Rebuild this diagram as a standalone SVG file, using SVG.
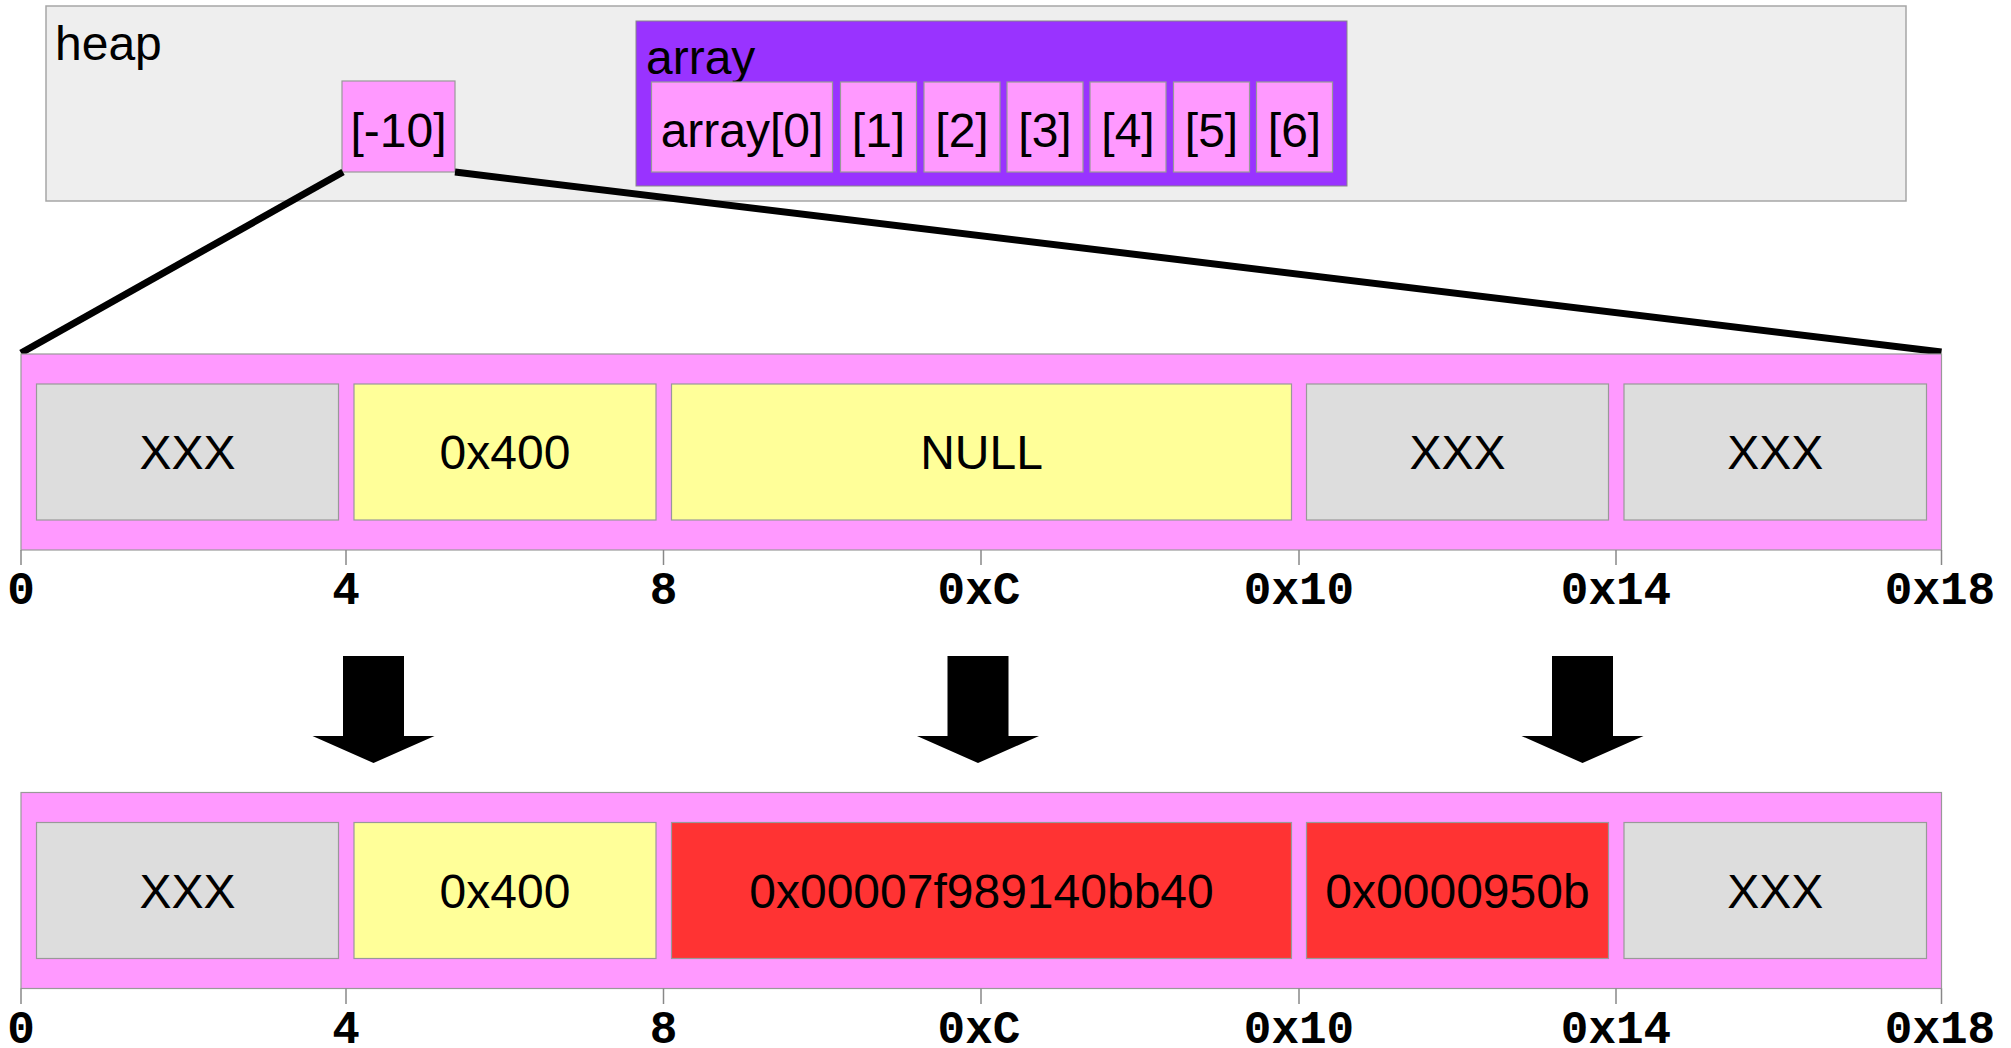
<svg xmlns="http://www.w3.org/2000/svg" xmlns:xlink="http://www.w3.org/1999/xlink" width="2011" height="1048" viewBox="0 0 2011 1048">
<style>
.t{font-family:"Liberation Sans",Arial,sans-serif;font-size:48px;fill:#000}
.c{text-anchor:middle}
.m{font-family:"Liberation Mono","Courier New",monospace;font-size:46px;font-weight:bold;text-anchor:middle;fill:#000}
.heap{fill:#eeeeee;stroke:#a6a6a6;stroke-width:1.5}
.arr{fill:#9933ff;stroke:#888;stroke-width:1}
.pink{fill:#ff99ff;stroke:#999;stroke-width:1.2}
.grey{fill:#dddddd;stroke:#999;stroke-width:1.2}
.yel{fill:#ffff99;stroke:#999;stroke-width:1.2}
.red{fill:#ff3333;stroke:#999;stroke-width:1.2}
.tick{stroke:#888;stroke-width:1.5}
.conn{stroke:#000;stroke-width:7;fill:none}
</style>
<defs>
<path id="bigArrow" d="M-30.5,0 H30.5 V80 H61 L0,107 L-61,80 H-30.5 Z" fill="#000"/>
</defs>

<g id="heap">
<rect class="heap" x="46" y="6" width="1860" height="195"/>
<text class="t" x="55" y="60">heap</text>
</g>

<g id="array">
<rect class="arr" x="636" y="21" width="711" height="165"/>
<text class="t" x="646" y="74">array</text>
<g id="array0"><rect class="pink" x="651.5" y="82" width="181" height="90"/><text class="t c" x="742" y="147">array[0]</text></g>
<g id="array1"><rect class="pink" x="840.5" y="82" width="76" height="90"/><text class="t c" x="878.5" y="147">[1]</text></g>
<g id="array2"><rect class="pink" x="924" y="82" width="76" height="90"/><text class="t c" x="962" y="147">[2]</text></g>
<g id="array3"><rect class="pink" x="1007" y="82" width="76" height="90"/><text class="t c" x="1045" y="147">[3]</text></g>
<g id="array4"><rect class="pink" x="1090" y="82" width="76" height="90"/><text class="t c" x="1128" y="147">[4]</text></g>
<g id="array5"><rect class="pink" x="1173.5" y="82" width="76" height="90"/><text class="t c" x="1211.5" y="147">[5]</text></g>
<g id="array6"><rect class="pink" x="1256.5" y="82" width="76" height="90"/><text class="t c" x="1294.5" y="147">[6]</text></g>
</g>

<g id="elem-10">
<rect class="pink" x="342" y="81" width="113" height="91"/>
<text class="t c" x="398.5" y="147">[-10]</text>
</g>

<g id="connectors">
<line class="conn" x1="343" y1="172" x2="21" y2="353"/>
<line class="conn" x1="455" y1="172" x2="1941.5" y2="352"/>
<use xlink:href="#bigArrow" x="373.5" y="656"/>
<use xlink:href="#bigArrow" x="978" y="656"/>
<use xlink:href="#bigArrow" x="1582.5" y="656"/>
</g>

<g id="row-before">
<rect class="pink" x="21" y="354" width="1920.5" height="196"/>
<g id="b0"><rect class="grey" x="36.5" y="384" width="302" height="136"/><text class="t c" x="187.5" y="469">XXX</text></g>
<g id="b1"><rect class="yel" x="354" y="384" width="302" height="136"/><text class="t c" x="505" y="469">0x400</text></g>
<g id="b2"><rect class="yel" x="671.5" y="384" width="620" height="136"/><text class="t c" x="981.5" y="469">NULL</text></g>
<g id="b3"><rect class="grey" x="1306.5" y="384" width="302" height="136"/><text class="t c" x="1457.5" y="469">XXX</text></g>
<g id="b4"><rect class="grey" x="1624" y="384" width="302.5" height="136"/><text class="t c" x="1775.25" y="469">XXX</text></g>
<g id="axis-before">
<line class="tick" x1="21" y1="550" x2="21" y2="565"/>
<line class="tick" x1="346" y1="550" x2="346" y2="565"/>
<line class="tick" x1="663.5" y1="550" x2="663.5" y2="565"/>
<line class="tick" x1="981" y1="550" x2="981" y2="565"/>
<line class="tick" x1="1299" y1="550" x2="1299" y2="565"/>
<line class="tick" x1="1616" y1="550" x2="1616" y2="565"/>
<line class="tick" x1="1941.5" y1="550" x2="1941.5" y2="565"/>
<text class="m" x="21" y="604">0</text>
<text class="m" x="346" y="604">4</text>
<text class="m" x="663.5" y="604">8</text>
<text class="m" x="979" y="604">0xC</text>
<text class="m" x="1299" y="604">0x10</text>
<text class="m" x="1616" y="604">0x14</text>
<text class="m" x="1940" y="604">0x18</text>
</g>
</g>

<g id="row-after">
<rect class="pink" x="21" y="792.5" width="1920.5" height="196"/>
<g id="a0"><rect class="grey" x="36.5" y="822.5" width="302" height="136"/><text class="t c" x="187.5" y="907.5">XXX</text></g>
<g id="a1"><rect class="yel" x="354" y="822.5" width="302" height="136"/><text class="t c" x="505" y="907.5">0x400</text></g>
<g id="a2"><rect class="red" x="671.5" y="822.5" width="620" height="136"/><text class="t c" x="981.5" y="907.5">0x00007f989140bb40</text></g>
<g id="a3"><rect class="red" x="1306.5" y="822.5" width="302" height="136"/><text class="t c" x="1457.5" y="907.5">0x0000950b</text></g>
<g id="a4"><rect class="grey" x="1624" y="822.5" width="302.5" height="136"/><text class="t c" x="1775.25" y="907.5">XXX</text></g>
<g id="axis-after">
<line class="tick" x1="21" y1="988.5" x2="21" y2="1004"/>
<line class="tick" x1="346" y1="988.5" x2="346" y2="1004"/>
<line class="tick" x1="663.5" y1="988.5" x2="663.5" y2="1004"/>
<line class="tick" x1="981" y1="988.5" x2="981" y2="1004"/>
<line class="tick" x1="1299" y1="988.5" x2="1299" y2="1004"/>
<line class="tick" x1="1616" y1="988.5" x2="1616" y2="1004"/>
<line class="tick" x1="1941.5" y1="988.5" x2="1941.5" y2="1004"/>
<text class="m" x="21" y="1043">0</text>
<text class="m" x="346" y="1043">4</text>
<text class="m" x="663.5" y="1043">8</text>
<text class="m" x="979" y="1043">0xC</text>
<text class="m" x="1299" y="1043">0x10</text>
<text class="m" x="1616" y="1043">0x14</text>
<text class="m" x="1940" y="1043">0x18</text>
</g>
</g>
</svg>
